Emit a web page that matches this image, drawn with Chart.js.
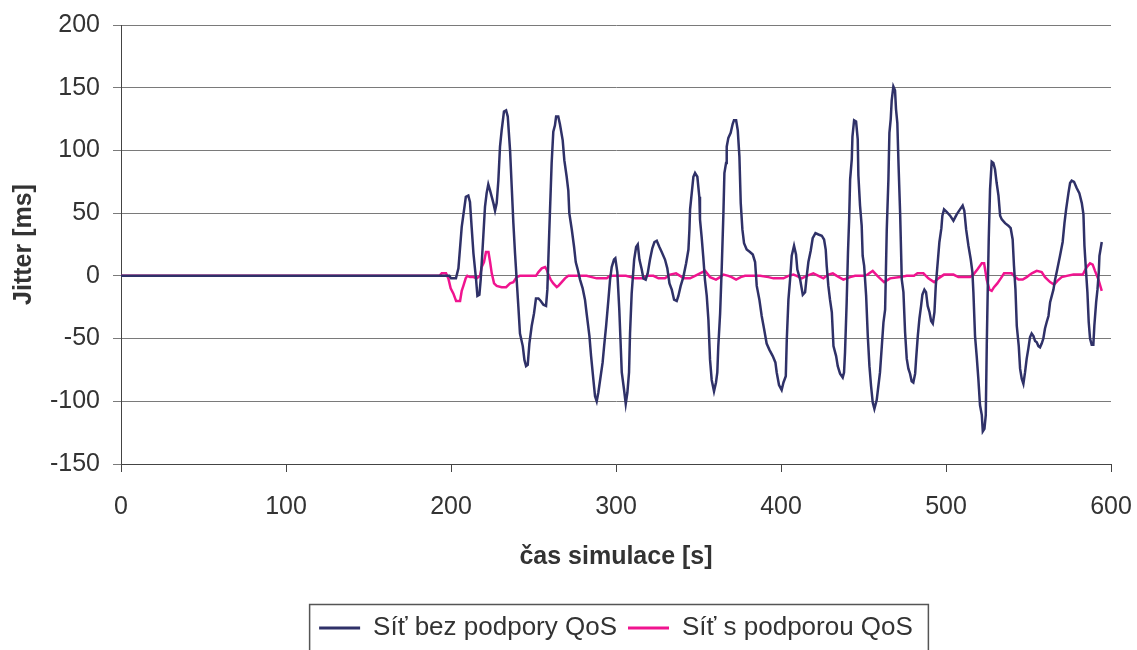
<!DOCTYPE html>
<html>
<head>
<meta charset="utf-8">
<script src="https://cdn.jsdelivr.net/npm/chart.js@4.4.1/dist/chart.umd.min.js"></script>
<style>
html,body{margin:0;padding:0;background:#fff;overflow:hidden;}
#wrap{width:1137px;height:651px;}
</style>
</head>
<body>
<div id="wrap"><canvas id="c" width="1137" height="651"></canvas></div>
<script>
// ---- data ----
const seriesNames = ["Síť bez podpory QoS", "Síť s podporou QoS"];
const xTickValues = [0, 100, 200, 300, 400, 500, 600];
const yTickValues = [-150, -100, -50, 0, 50, 100, 150, 200];

const navyTime = [0,190,199,200,203,204.5,206.5,209,210.5,211.5,212.5,213.6,215.2,216,217.2,218,219.2,220.6,221.6,222.6,223.7,224.7,225.7,226.7,227.7,228.7,229.7,230.7,232.1,233.4,234.4,235.8,236.8,237.8,238.8,239.8,240.8,241.8,243.5,244.5,245.5,246.5,247.5,248.9,250.3,251.5,253,254.4,256,257.6,258.4,259.6,261,262,263,263.7,265,266,267.7,268.7,270.1,271.1,271.7,273.2,274.6,275.6,276.8,278.2,279.8,281.2,282.2,283.9,284.9,286.3,287.3,288.3,289.3,290.7,291.9,292.8,294,295.4,296.4,297.4,298.8,299.6,300.8,302,303.5,304.9,305.9,306.9,307.9,308.5,309.5,311,312.2,313.2,314.2,315.6,316.6,318,319.2,320.6,322,323.3,324.7,326.3,327.7,329.7,331.1,332.4,333.8,335.2,336.8,337.8,339.2,340.8,342.5,343.9,344.5,344.9,345.9,346.9,347.9,349.3,350.5,350.9,351.9,352.9,353.9,355,356,357,358,359.4,360.6,361.4,362,363.1,364.1,365.1,365.7,366.7,367.1,368.1,369.5,370.7,371.5,372.8,373.8,374.8,375.6,376.6,377.6,379.2,381.2,382.9,384.3,385.3,386.9,388.3,389.7,391.3,393,395,396.6,397.4,398.8,400.4,401.5,402.9,403.5,404.5,405.5,406.5,407.9,409.1,409.9,411.6,413.2,414.6,415.6,416.6,418,419.2,420.9,422.7,424.7,426.1,427.1,427.7,428.7,429.7,430.8,431.8,433.4,434.4,435.8,437.4,438.2,438.8,439.8,440.6,441.3,441.9,442.9,443.3,444.3,445.5,446.5,446.9,447.9,448.9,449.5,450.4,451.6,452.6,453.6,454.6,455.6,456.6,458,459,460,461.1,462.1,463.1,464.1,465.1,465.7,466.5,467.1,468.1,469.1,469.7,470.5,471.2,472.2,473.2,474.2,475.2,476.2,477.2,478.2,479.2,480.2,481.3,481.9,482.9,483.9,484.9,485.7,486.9,487.9,488.9,490,491,492,493,493.8,494.8,496,497.2,497.8,498.8,500.4,502.5,504.5,506.5,508.5,510.1,511.1,512.2,513.6,515,516,516.6,517.6,518.6,519.6,520.6,521.7,522.3,523.3,524.1,524.7,525.3,525.9,526.7,527.7,528.7,529.7,530.7,531.8,532.8,533.8,535.8,537.8,539.2,540.4,541.2,542.1,542.9,544.1,544.9,545.9,546.9,547.9,548.9,549.9,550.9,551.9,553,554,555,556,557,558,559,560,561,562.1,563.1,564.1,565.1,566.1,567.1,569.1,570.7,571.8,572.8,574.2,575.2,576.2,577.6,579.2,580.8,582.3,583.3,583.9,584.9,585.7,586.5,587.3,588.3,589.3,589.9,591,591.8,592.6,593,594.4];
const navyJitter = [0,0,0,-2,-2,6,39,63,64,59,39,18,-3,-16,-15,-3,23,55,66,73,68,63,58,52,58,76,103,116,131,132,127,100,71,42,18,-3,-24,-46,-56,-67,-72,-71,-54,-40,-30,-18,-18,-20,-23,-24,-11,37,90,115,120,127,127,121,108,92,79,68,50,37,23,11,5,-3,-10,-19,-30,-48,-64,-83,-96,-100,-93,-80,-69,-56,-40,-19,-3,7,13,14,3,-27,-77,-91,-102,-93,-77,-46,-14,13,23,25,13,5,-2,-3,2,13,22,27,28,23,19,13,6,-6,-11,-19,-20,-16,-8,-1,10,21,37,53,66,79,82,79,63,45,31,15,-3,-16,-35,-67,-83,-92,-85,-77,-56,-30,7,50,82,90,103,110,114,121,124,124,116,95,58,37,26,21,19,17,11,-8,-19,-32,-42,-54,-59,-64,-69,-77,-87,-91,-85,-80,-51,-19,-3,16,24,17,5,-3,-15,-13,0,11,20,30,34,33,32,29,21,8,-8,-19,-29,-56,-64,-72,-78,-81,-77,-61,-21,19,45,77,93,111,124,123,109,80,56,40,16,8,-16,-48,-72,-88,-101,-106,-99,-88,-77,-56,-37,-27,37,77,114,125,140,151,148,133,122,90,50,-3,-13,-45,-66,-74,-78,-84,-85,-78,-66,-48,-34,-24,-15,-11,-13,-24,-29,-36,-38,-29,-8,8,27,38,48,53,51,48,44,49,53,56,52,37,24,13,3,-13,-48,-64,-82,-103,-111,-124,-122,-111,-56,-11,29,69,91,90,85,74,64,48,45,42,40,38,29,8,-11,-40,-56,-74,-82,-86,-77,-66,-58,-49,-46,-48,-52,-53,-56,-57,-54,-50,-42,-37,-32,-21,-16,-11,-3,3,16,27,42,53,66,74,76,75,70,66,58,49,24,3,-13,-37,-50,-55,-55,-40,-21,-11,3,16,27];

const pinkTime = [0,193,194.4,197,198.4,199.8,201.4,203.1,205.5,206.5,207.5,208.9,209.9,211.5,213.6,215.6,217.6,218.6,220,221.2,222.7,223.7,224.7,226.1,227.7,230.7,233.4,235.8,237.8,239.8,241.8,251.5,253,255,257,258,259,260.4,262,264.1,265.1,267.1,269.1,271.1,282.2,285.3,288.3,294.4,296.4,306,309,311.6,316.6,318.6,322.7,325.7,329.7,332.8,336.4,338.8,340.8,344.9,347.9,350.9,354,357,360.6,363.1,365.1,368.1,370.1,372.8,375.6,378.2,387.3,392.4,395.4,401.5,404.5,407.5,409.5,412.6,415.6,419.6,422.7,425.7,428.7,431.4,433.8,437.8,441.9,444.9,449.9,452.4,455.6,458.4,462.5,466.1,472.2,476.2,480.6,482.7,486.3,489.3,492.8,495.4,498.8,504.5,507.5,514.6,516.6,519,521.7,523.1,524.7,526.3,527.7,529.1,531.1,533.2,535.2,537.8,539.8,541.9,543.9,546.5,548.9,552,555,558,560,563.1,565.5,567.5,570.1,573.2,577.2,582.9,585.3,587.3,588.9,590.3,592.4,594.4];
const pinkJitter = [0,0,2,2,-2,-10,-14,-20,-20,-12,-8,-2,0,-1,-1,-2,0,7,11,19,19,11,2,-6,-8,-9,-9,-6,-5,-1,0,0,3,6,7,5,1,-3,-6,-9,-8,-5,-2,0,0,-1,-2,-2,0,0,-1,-2,-2,0,0,-2,-2,1,2,0,-2,-2,0,2,4,-1,-3,-1,1,0,-1,-3,-1,0,0,-1,-2,-2,0,1,0,-2,0,2,0,-2,1,2,0,-3,-1,0,0,1,4,0,-5,-2,-1,0,0,2,2,-2,-5,-2,1,1,-1,-1,1,5,10,10,-3,-11,-12,-9,-6,-2,2,2,2,-1,-3,-3,-1,2,4,3,-1,-5,-7,-4,-1,0,1,1,7,10,9,4,-3,-12];

const navyColor = '#2f3168';
const pinkColor = '#f0148f';
const textColor = '#333333';

const legendFrame = {
  id: 'legendFrame',
  afterDraw(chart) {
    const lg = chart.legend;
    if (!lg || !lg.legendHitBoxes || !lg.legendHitBoxes.length) return;
    const hb = lg.legendHitBoxes;
    const first = hb[0], last = hb[hb.length - 1];
    const left = first.left - 10;
    const right = last.left + last.width + 15;
    const top = lg.top;
    const ctx = chart.ctx;
    ctx.save();
    ctx.strokeStyle = '#555';
    ctx.lineWidth = 1.5;
    ctx.strokeRect(left + 0.5, top + 0.5, right - left, 80);
    ctx.restore();
  }
};

new Chart(document.getElementById('c'), {
  type: 'line',
  data: {
    datasets: [
      {
        label: seriesNames[0],
        data: navyTime.map((t, i) => ({x: t, y: navyJitter[i]})),
        borderColor: navyColor,
        backgroundColor: navyColor,
        borderWidth: 2.5,
        pointRadius: 0,
        tension: 0
      },
      {
        label: seriesNames[1],
        data: pinkTime.map((t, i) => ({x: t, y: pinkJitter[i]})),
        borderColor: pinkColor,
        backgroundColor: pinkColor,
        borderWidth: 2.5,
        pointRadius: 0,
        tension: 0
      }
    ]
  },
  options: {
    responsive: false,
    animation: false,
    devicePixelRatio: 1,
    layout: { padding: { top: 25, right: 26, left: 0, bottom: 0 } },
    plugins: {
      tooltip: { enabled: false },
      legend: {
        position: 'bottom',
        fullSize: false,
        labels: {
          color: textColor,
          font: { family: 'Liberation Sans, Arial, sans-serif', size: 26 },
          boxWidth: 41,
          boxHeight: 3,
          padding: 11,
          generateLabels(chart) {
            return chart.data.datasets.map((ds, i) => ({
              text: ds.label,
              fillStyle: ds.borderColor,
              strokeStyle: ds.borderColor,
              lineWidth: 0,
              fontColor: textColor,
              hidden: false,
              datasetIndex: i
            }));
          }
        }
      }
    },
    scales: {
      x: {
        type: 'linear',
        min: 0, max: 600,
        afterFit(s) { s.height = 140; s.paddingLeft = 0; s.paddingRight = 0; },
        afterBuildTicks(s) { s.ticks = xTickValues.map(v => ({value: v})); },
        border: { display: true, color: '#444', width: 1 },
        grid: { drawOnChartArea: false, drawTicks: true, tickLength: 8, color: '#444' },
        ticks: {
          color: textColor,
          padding: 20,
          maxRotation: 0,
          font: { family: 'Liberation Sans, Arial, sans-serif', size: 25 }
        },
        title: {
          display: true,
          text: 'čas simulace [s]',
          color: textColor,
          font: { family: 'Liberation Sans, Arial, sans-serif', size: 25, weight: 'bold' },
          padding: { top: 0, bottom: 32 }
        }
      },
      y: {
        min: -150, max: 200,
        afterFit(s) { s.width = 121; s.paddingTop = 0; s.paddingBottom = 0; },
        afterBuildTicks(s) { s.ticks = yTickValues.map(v => ({value: v})); },
        border: { display: true, color: '#444', width: 1 },
        grid: { color: '#7a7a7a', lineWidth: 1, tickLength: 8, drawTicks: true },
        ticks: {
          color: textColor,
          padding: 13,
          font: { family: 'Liberation Sans, Arial, sans-serif', size: 25 }
        },
        title: {
          display: true,
          text: 'Jitter [ms]',
          color: textColor,
          font: { family: 'Liberation Sans, Arial, sans-serif', size: 25, weight: 'bold' },
          padding: { top: 9, bottom: 0 }
        }
      }
    }
  },
  plugins: [legendFrame]
});
</script>
</body>
</html>
